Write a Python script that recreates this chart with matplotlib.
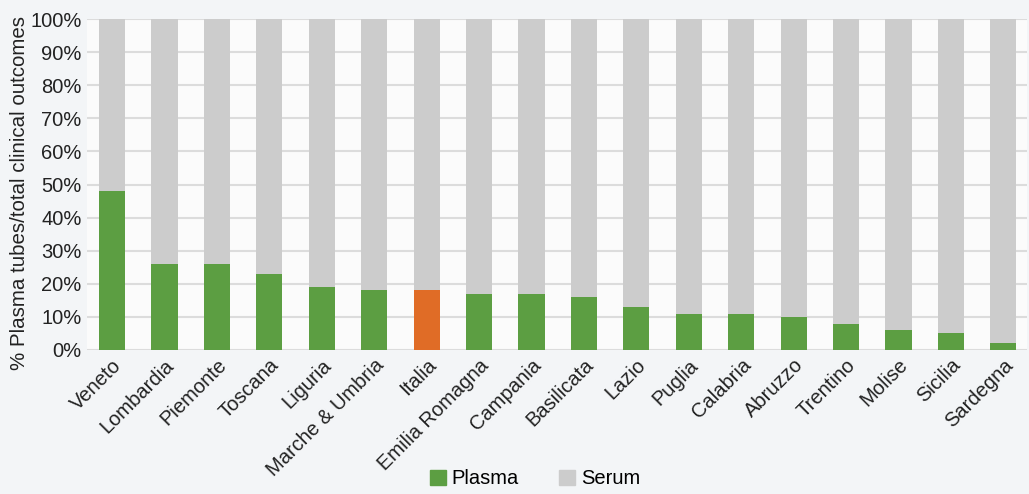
import matplotlib.pyplot as plt
from matplotlib.ticker import PercentFormatter
from matplotlib.patches import Patch

regions = ['Veneto', 'Lombardia', 'Piemonte', 'Toscana', 'Liguria', 'Marche & Umbria',
           'Italia', 'Emilia Romagna', 'Campania', 'Basilicata', 'Lazio', 'Puglia',
           'Calabria', 'Abruzzo', 'Trentino', 'Molise', 'Sicilia', 'Sardegna']
plasma = [48, 26, 26, 23, 19, 18, 18, 17, 17, 16, 13, 11, 11, 10, 8, 6, 5, 2]
serum = [100 - p for p in plasma]

green = '#5c9e42'
grey = '#cccccc'
orange = '#e06c26'
colors = [orange if r == 'Italia' else green for r in regions]

plt.rcParams['font.family'] = ['Liberation Sans', 'DejaVu Sans']

fig = plt.figure(figsize=(10.29, 4.94), dpi=100, facecolor='#f3f5f7')
ax = fig.add_axes([0.0845, 0.2915, 0.9135, 0.67])
ax.set_facecolor('#fbfbfb')

x = range(len(regions))
ax.bar(x, plasma, width=0.5, color=colors, zorder=3)
ax.bar(x, serum, width=0.5, bottom=plasma, color=grey, zorder=3)

ax.set_ylim(0, 100)
ax.set_xlim(-0.48, len(regions) - 0.55)
ax.set_yticks(range(0, 101, 10))
ax.yaxis.set_major_formatter(PercentFormatter(decimals=0))
ax.grid(axis='y', color='#dcdcdc', linewidth=1.5, zorder=0)
for s in ax.spines.values():
    s.set_visible(False)
ax.tick_params(length=0, labelsize=14.5, colors='#222222')
ax.tick_params(axis='y', pad=4)
ax.tick_params(axis='x', pad=4)
ax.set_xticks(list(x))
ax.set_xticklabels(regions, rotation=45, ha='right', rotation_mode='anchor')
ax.set_ylabel('% Plasma tubes/total clinical outcomes', fontsize=14.8, color='#222222')
ax.yaxis.set_label_coords(-0.062, 0.475)

handles = [Patch(color=green, label='Plasma'), Patch(color=grey, label='Serum')]
fig.legend(handles=handles, loc='lower center', bbox_to_anchor=(0.52, -0.025), ncol=2,
           frameon=False, fontsize=14.5, handlelength=0.8, handleheight=0.8,
           handletextpad=0.3, columnspacing=2.0)

fig.savefig('out.png', dpi=100, facecolor=fig.get_facecolor())
